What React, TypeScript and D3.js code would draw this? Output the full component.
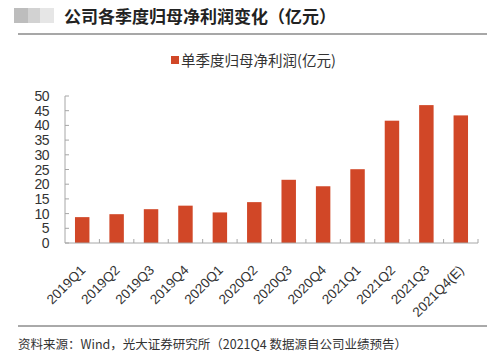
import React from "react";
import * as d3 from "d3";

const categories = ["2019Q1","2019Q2","2019Q3","2019Q4","2020Q1","2020Q2","2020Q3","2020Q4","2021Q1","2021Q2","2021Q3","2021Q4(E)"];
const profit = [8.8, 9.8, 11.5, 12.7, 10.4, 13.9, 21.5, 19.3, 25.1, 41.6, 46.9, 43.4];
const yTicks = [0, 5, 10, 15, 20, 25, 30, 35, 40, 45, 50];
const title = "公司各季度归母净利润变化（亿元）";
const legendLabel = "单季度归母净利润(亿元)";
const source = "资料来源：Wind，光大证券研究所（2021Q4 数据源自公司业绩预告）";

export default function App() {
  const W = 500, H = 359;
  const left = 65, right = 478, top = 96, bottom = 243;
  const x = d3.scaleBand<string>().domain(categories).range([left, right]).paddingInner(0.58).paddingOuter(0.29);
  const xb = d3.scaleBand<string>().domain(categories).range([left, right]);
  const y = d3.scaleLinear().domain([0, 50]).range([bottom, top]);
  const font = "'Liberation Sans', Arial, sans-serif";
  const cjk = "'Noto Sans CJK SC', sans-serif";
  const axisColor = "#a6a6a6";
  const barColor = "#d14727";
  return (
    <svg width={W} height={H} style={{ position: "absolute", left: 0, top: 0, background: "#fff" }}>
      <rect x={14} y={8} width={14} height={15} fill="#bdbdbd" />
      <rect x={28} y={8} width={12} height={15} fill="#d2d2d2" />
      <rect x={40} y={8} width={14} height={15} fill="#e6e6e6" />
      <text x={64} y={22.5} fontFamily={cjk} fontSize={17} fontWeight={700} fill="#222">{title}</text>
      <line x1={18} x2={487} y1={34} y2={34} stroke="#8a8a8a" strokeWidth={1.5} />
      <rect x={171} y={56} width={8} height={8} fill={barColor} />
      <text x={181} y={65.5} fontFamily={cjk} fontSize={14.5} fill="#333">{legendLabel}</text>
      {yTicks.map(t => (
        <g key={t}>
          <line x1={left} x2={left + 4} y1={y(t)} y2={y(t)} stroke={axisColor} />
          <text x={49} y={y(t)} dy="0.36em" textAnchor="end" fontFamily={font} fontSize={14} fill="#333" letterSpacing={-0.5}>{t}</text>
        </g>
      ))}
      <line x1={left} x2={left} y1={top} y2={bottom} stroke={axisColor} />
      {categories.map((c, i) => (
        <rect key={c} x={x(c)} y={y(profit[i])} width={x.bandwidth()} height={bottom - y(profit[i])} fill={barColor} />
      ))}
      <line x1={left} x2={right} y1={bottom} y2={bottom} stroke={axisColor} />
      {categories.map((c) => (
        <line key={"t" + c} x1={(xb(c) as number) + xb.bandwidth()} x2={(xb(c) as number) + xb.bandwidth()} y1={bottom} y2={bottom - 4} stroke={axisColor} />
      ))}
      {categories.map((c) => {
        const cx = (xb(c) as number) + xb.bandwidth() / 2 + 4;
        const cy = 271;
        return (
          <text key={"l" + c} x={cx} y={cy} textAnchor="end" fontFamily={font} fontSize={13.5} fill="#333" transform={`rotate(-45 ${cx} ${cy})`}>{c}</text>
        );
      })}
      <line x1={18} x2={487} y1={326} y2={326} stroke="#555" strokeWidth={1} />
      <text x={18} y={349} fontFamily={cjk} fontSize={12.5} fill="#333">{source}</text>
    </svg>
  );
}
